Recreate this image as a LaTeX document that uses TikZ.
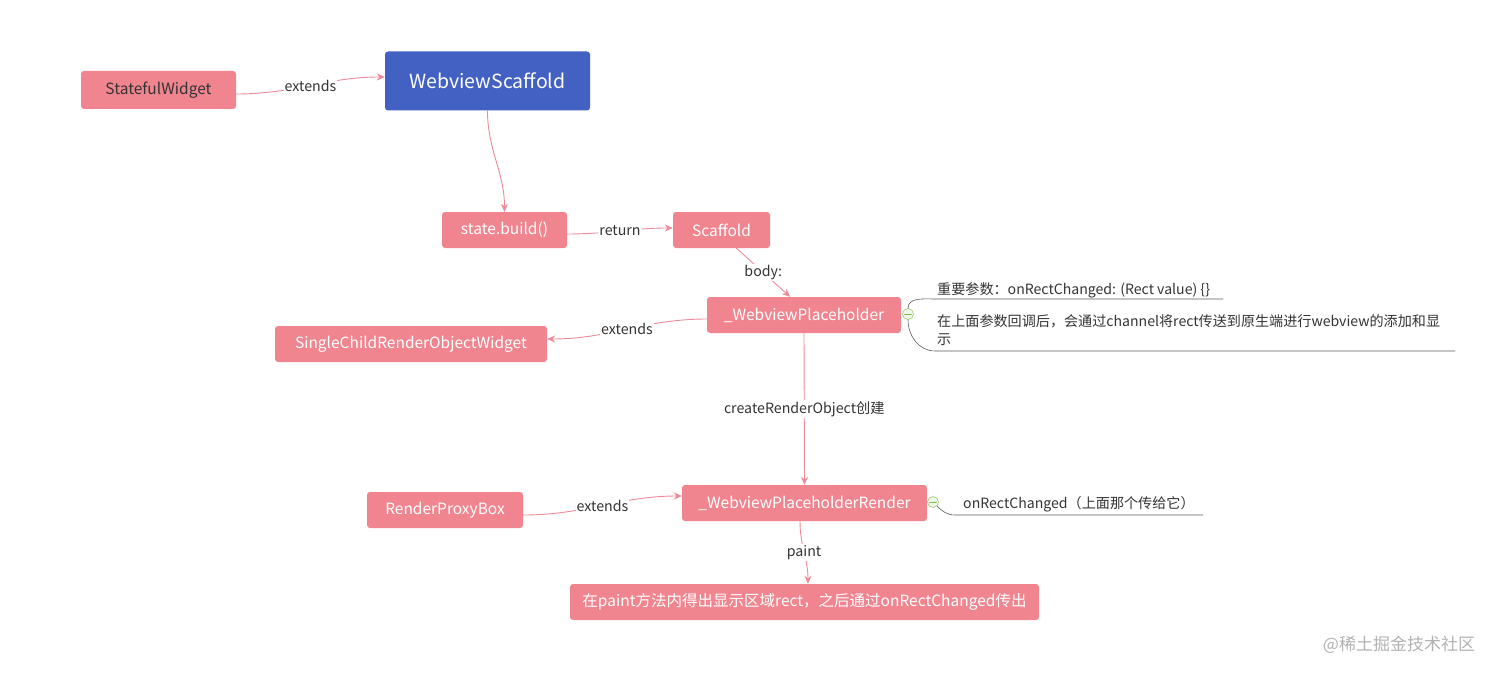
\documentclass[tikz,border=0pt]{standalone}
\usepackage{fontspec}
\setmainfont{Noto Sans CJK SC}
\usetikzlibrary{arrows.meta}
\definecolor{boxpink}{HTML}{F1858F}
\definecolor{boxblue}{HTML}{4361C2}
\definecolor{linkpink}{HTML}{EE8A97}
\definecolor{textgray}{HTML}{333333}
\definecolor{knobgreen}{HTML}{7DBB4C}
\begin{document}
\begin{tikzpicture}[x=1pt, y=1pt, line join=round, line cap=round,
  box/.style={fill=boxpink, rounded corners=3pt, text=white, minimum height=36pt, inner sep=0pt, font=\fontsize{15.5}{18}\selectfont},
  link/.style={draw=linkpink, line width=0.9pt, -{Stealth[length=8pt,width=7pt]}},
  lbl/.style={fill=white, text=textgray, inner sep=1pt, font=\fontsize{14.2}{16}\selectfont},
  note/.style={text=textgray, inner sep=0pt, font=\fontsize{14.1}{18}\selectfont},
  noteline/.style={draw=textgray!80, line width=0.6pt},
  knob/.style={circle, draw=knobgreen, fill=knobgreen!12, minimum size=11pt, inner sep=0pt,
    path picture={\draw[knobgreen, line width=0.7pt] ([xshift=2pt]path picture bounding box.west) -- ([xshift=-2pt]path picture bounding box.east);}}]
  \useasboundingbox (0,0) rectangle (1499,-674);
  \node[box, text=textgray, minimum width=155pt, minimum height=38pt] (stateful) at (158.5,-90) {StatefulWidget};
  \node[box, fill=boxblue, minimum width=205pt, minimum height=59pt, font=\fontsize{19.5}{22}\selectfont] (webscaffold) at (487.5,-81) {WebviewScaffold};
  \node[box, minimum width=125pt] (statebuild) at (504.5,-230) {state.build()};
  \node[box, minimum width=97pt] (scaffold) at (721.5,-230) {Scaffold};
  \node[box, minimum width=194pt] (holder) at (804,-315) {\_WebviewPlaceholder};
  \node[box, minimum width=272pt] (singlechild) at (411,-344) {SingleChildRenderObjectWidget};
  \node[box, minimum width=245pt] (holderrender) at (804.5,-503) {\_WebviewPlaceholderRender};
  \node[box, minimum width=156pt] (proxybox) at (445,-510) {RenderProxyBox};
  \node[box, minimum width=469pt] (paintout) at (804.5,-602) {在paint方法内得出显示区域rect，之后通过onRectChanged传出};

  \draw[link] ([yshift=-4pt]stateful.east) to[out=0,in=180] node[lbl] {extends} ([yshift=4pt]webscaffold.west);
  \draw[link] (webscaffold.south) to[out=-90,in=90] (statebuild.north);
  \draw[link] ([yshift=-4pt]statebuild.east) to[out=0,in=180] node[lbl] {return} ([yshift=2pt]scaffold.west);
  \draw[link] ([xshift=15pt]scaffold.south) -- node[lbl] {body:} ([xshift=-14pt]holder.north);
  \draw[link] ([yshift=-4pt]holder.west) to[out=180,in=0] node[lbl] {extends} ([yshift=5pt]singlechild.east);
  \draw[link] (holder.south) -- node[lbl] {createRenderObject创建} (holderrender.north);
  \draw[link] ([yshift=-5pt]proxybox.east) to[out=0,in=180] node[lbl] {extends} ([yshift=7pt]holderrender.west);
  \draw[link] ([xshift=-4.5pt]holderrender.south) to[out=-90,in=90] node[lbl] {paint} ([xshift=3.5pt]paintout.north);

  \node[knob] (knobtop) at (908,-314) {};
  \node[knob] (knobbottom) at (933,-502) {};
  \coordinate (paramstart) at (935,-299);
  \coordinate (paramend) at (1223,-299);
  \coordinate (channelstart) at (935,-351);
  \coordinate (channelend) at (1455,-351);
  \coordinate (changedstart) at (955,-515);
  \coordinate (changedend) at (1203,-515);
  \draw[noteline] (knobtop.north) to[out=90,in=180] (paramstart) -- (paramend);
  \draw[noteline] (knobtop.south) to[out=-90,in=180] (channelstart) -- (channelend);
  \draw[noteline] (knobbottom.south east) to[out=-45,in=180] (changedstart) -- (changedend);
  \node[note, anchor=base west] (paramnote) at (937,-294) {重要参数：onRectChanged: (Rect value) \{\}};
  \node[note, anchor=north west, align=left] (channelnote) at (937,-314) {在上面参数回调后，会通过channel将rect传送到原生端进行webview的添加和显\\示};
  \node[note, anchor=base west] (changednote) at (963,-508) {onRectChanged（上面那个传给它）};
  \node[text=black!30, inner sep=0pt, font=\fontsize{17}{20}\selectfont] (watermark) at (1399,-645) {@稀土掘金技术社区};
\end{tikzpicture}
\end{document}
